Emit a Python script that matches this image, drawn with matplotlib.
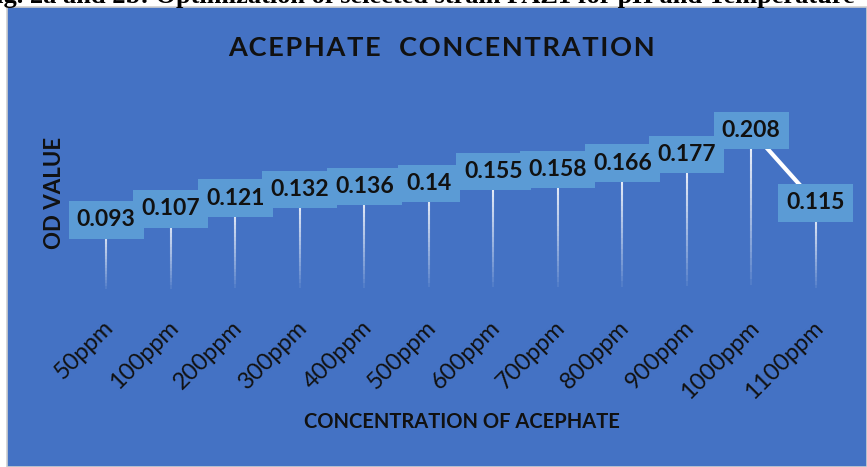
import numpy as np
import matplotlib
matplotlib.use("Agg")
import matplotlib.pyplot as plt
from matplotlib.patches import Rectangle
from matplotlib.collections import LineCollection
from matplotlib.transforms import ScaledTranslation

# acephate concentration vs OD
conc_labels = ["50ppm", "100ppm", "200ppm", "300ppm", "400ppm", "500ppm",
               "600ppm", "700ppm", "800ppm", "900ppm", "1000ppm", "1100ppm"]
od_values = [0.093, 0.107, 0.121, 0.132, 0.136, 0.14,
             0.155, 0.158, 0.166, 0.177, 0.208, 0.115]

BG = "#4472C4"
BOX = "#5B9BD5"
FONT = "Lato"

W, H = 867, 467
fig = plt.figure(figsize=(W / 100, H / 100), dpi=100)
fig.patch.set_facecolor("white")

# blue chart panel
panel = Rectangle((7 / W, 0), 1 - 7 / W, 1 - 7 / H, transform=fig.transFigure,
                  facecolor=BG, edgecolor="#cfcfcf", lw=1.2, zorder=-10)
fig.patches.append(panel)

# caption line cut off above the panel
fig.text(-20 / W, 1 - 3 / H,
         "Fig. 2a and 2b: Optimization of selected strain PAZ1 for pH and Temperature",
         fontsize=19, fontweight="bold", family="Liberation Serif", color="black",
         va="baseline", ha="left", zorder=-5)

ax = fig.add_axes([74 / W, 175 / H, 774 / W, 194 / H])
ax.set_zorder(2)
ax.set_facecolor("none")
x = np.arange(len(od_values))
ax.set_xlim(-0.5, len(od_values) - 0.5)
ax.set_ylim(0, 0.25)
for s in ax.spines.values():
    s.set_visible(False)
ax.set_yticks([])

# drop lines fading toward the axis
for xi, v in zip(x, od_values):
    ys = np.linspace(0, v, 25)
    segs = [[(xi, ys[k]), (xi, ys[k + 1])] for k in range(len(ys) - 1)]
    alphas = np.linspace(0.0, 0.95, len(segs)) ** 0.8
    cols = [(1, 1, 1, a) for a in alphas]
    ax.add_collection(LineCollection(segs, colors=cols, linewidths=1.5, zorder=1))

ax.plot(x, od_values, color="white", lw=3, zorder=2, solid_capstyle="butt")

# label boxes first, then the numbers on top so neighbours don't hide them
lab_kw = dict(ha="center", va="center", fontsize=16.5, fontweight="bold",
              family=FONT)
for i, v in enumerate(od_values):
    ax.text(i, v, str(v), color=BOX, zorder=3,
            bbox=dict(boxstyle="square,pad=0.36", fc=BOX, ec="none"), **lab_kw)
    ax.text(i, v, str(v), color="#111111", zorder=5, **lab_kw)

ax.set_xticks(x)
ax.set_xticklabels(conc_labels, rotation=45, ha="right", va="center",
                   rotation_mode="anchor", fontsize=17, family=FONT,
                   color="#111111")
ax.tick_params(axis="x", length=0, pad=23)
shift = ScaledTranslation(4 / 100, 0, fig.dpi_scale_trans)
for lab in ax.get_xticklabels():
    lab.set_transform(lab.get_transform() + shift)

ax.set_ylabel("OD VALUE", fontsize=16, fontweight="bold", family=FONT,
              color="#111111")
ax.yaxis.set_label_coords(-0.011, 0.51)
ax.set_xlabel("CONCENTRATION OF ACEPHATE", fontsize=14.5, fontweight="bold",
              family=FONT, color="#111111")
ax.xaxis.set_label_coords(0.501, -0.67)
ax.xaxis.label.set_va("center")

title = "\u200a".join("ACEPHATE  CONCENTRATION")
fig.text(441 / W, 1 - 48 / H, title, fontsize=19.5,
         fontweight="bold", family=FONT, color="#111111",
         ha="center", va="center")

fig.savefig("out.png", dpi=100)
